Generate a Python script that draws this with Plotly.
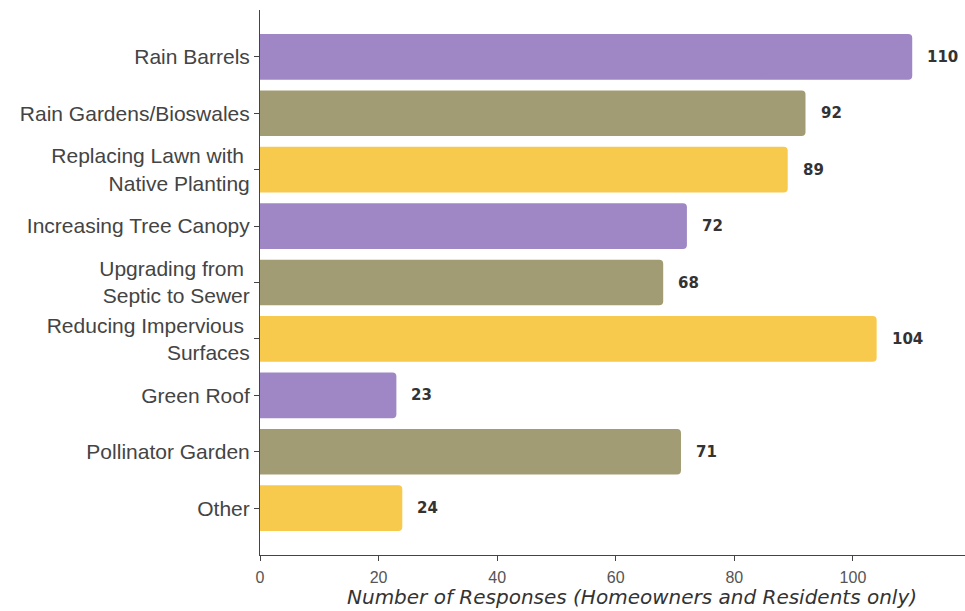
import plotly.graph_objects as go

categories = [
    "Rain Barrels",
    "Rain Gardens/Bioswales",
    "Replacing Lawn with <br>Native Planting",
    "Increasing Tree Canopy",
    "Upgrading from <br>Septic to Sewer",
    "Reducing Impervious <br>Surfaces",
    "Green Roof",
    "Pollinator Garden",
    "Other",
]
values = [110, 92, 89, 72, 68, 104, 23, 71, 24]
palette = ["#9f87c6", "#a29c74", "#f7c94c"]
colors = [palette[i % 3] for i in range(len(categories))]
x_ticks = [0, 20, 40, 60, 80, 100, 120]

fig = go.Figure()
fig.add_trace(go.Bar(
    y=list(range(len(categories))),
    x=values,
    orientation="h",
    width=0.81,
    marker=dict(color=colors, line=dict(width=0), cornerradius=4),
    hoverinfo="skip",
))

for i, v in enumerate(values):
    fig.add_annotation(
        x=v, y=i, xref="x", yref="y",
        text=str(v), showarrow=False,
        xanchor="left", yanchor="middle", xshift=13,
        font=dict(family="DejaVu Sans", size=15, color="#333333", weight="bold"),
    )

fig.update_layout(
    width=965, height=611,
    margin=dict(l=260, r=0, t=10, b=56),
    paper_bgcolor="white", plot_bgcolor="white",
    showlegend=False,
    font=dict(family="Liberation Sans, Arial, sans-serif", color="#444444"),
)
fig.update_xaxes(
    range=[0, 118.9],
    tickvals=x_ticks,
    ticktext=[str(t) for t in x_ticks],
    showgrid=False, zeroline=False,
    showline=True, linecolor="#444444", linewidth=1,
    ticks="outside", ticklen=5, tickcolor="#444444",
    ticklabelstandoff=3,
    tickfont=dict(size=16, color="#555555"),
)
fig.update_yaxes(
    range=[8.83, -0.83],
    tickvals=list(range(len(categories))),
    ticktext=categories,
    showgrid=False, zeroline=False,
    showline=True, linecolor="#444444", linewidth=1,
    ticks="outside", ticklen=5, tickcolor="#444444",
    tickfont=dict(size=21, color="#444444"),
)
fig.add_annotation(
    text="Number of Responses (Homeowners and Residents only)",
    xref="paper", yref="paper",
    x=(632 - 260) / 705, y=-0.077,
    xanchor="center", yanchor="middle",
    showarrow=False,
    font=dict(family="DejaVu Sans", size=20, color="#333333", style="italic"),
)
fig.write_html("out.html")
